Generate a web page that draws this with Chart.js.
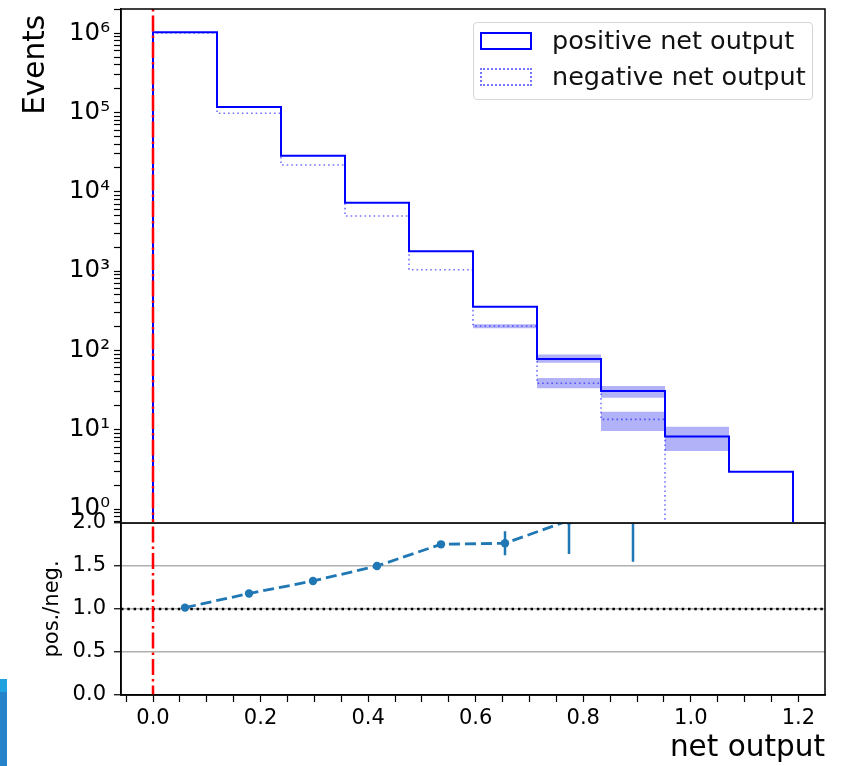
<!DOCTYPE html>
<html>
<head>
<meta charset="utf-8">
<script src="https://cdn.jsdelivr.net/npm/chart.js@4.4.1/dist/chart.umd.min.js"></script>
<style>
  html, body { margin: 0; padding: 0; background: #fff; }
  #wrap { position: relative; width: 849px; height: 766px; overflow: hidden; font-family: 'DejaVu Sans', sans-serif; }
  #wrap canvas { position: absolute; left: 0; top: 0; }
  #legend { position: absolute; left: 473px; top: 22px; width: 338px; height: 76px; border: 1px solid #d6d6d6; border-radius: 4px; background: rgba(255,255,255,0.85); }
  .entry { position: absolute; left: 6px; height: 18px; }
  .handle { position: absolute; left: 0; top: 0; width: 52px; height: 18px; box-sizing: border-box; }
  .text { position: absolute; left: 72px; top: -7px; font-size: 25.5px; line-height: 30px; color: #111; white-space: nowrap; }
  #corner { position: absolute; left: 0; top: 679px; width: 7px; height: 87px; background: #2583c9; }
  #corner div { width: 7px; height: 13px; background: #1fa2df; }
</style>
</head>
<body>
<div id="wrap">
  <canvas id="histCanvas" width="849" height="530"></canvas>
  <canvas id="ratioCanvas" width="849" height="766"></canvas>
  <div id="legend"></div>
  <div id="corner"><div></div></div>
</div>
<script>
// histogram binning (net output)
const binEdges = [0, 0.119, 0.238, 0.357, 0.476, 0.595, 0.714, 0.833, 0.952, 1.071, 1.19];
const posCounts = [1.03e6, 1.17e5, 2.85e4, 7.3e3, 1.78e3, 356, 78, 30.8, 8.2, 2.95];
const negCounts = [1.01e6, 9.8e4, 2.18e4, 4.95e3, 1.04e3, 203, 38.5, 13.5, 0, 0];

// uncertainty bands (null = not drawn)
const posBandLow  = [null, null, null, null, null, null, 70, 25.3, 5.4, null];
const posBandHigh = [null, null, null, null, null, null, 89, 35.6, 10.9, null];
const negBandLow  = [null, null, null, null, null, 190, 33.3, 9.6, null, null];
const negBandHigh = [null, null, null, null, null, 213, 44.9, 16.9, null, null];

// ratio panel
const ratioValues = [1.016, 1.18, 1.326, 1.50, 1.752, 1.764, 2.03, 2.28, null, null];
const ratioErrors = [0.006, 0.01, 0.012, 0.02, 0.035, 0.14, 0.39, 0.73, null, null];

const seriesLabels = ['positive net output', 'negative net output'];
const logMajorTicks = [1, 10, 100, 1e3, 1e4, 1e5, 1e6];
const ratioTicks = [0, 0.5, 1.0, 1.5, 2.0];
const xMajorTicks = [0, 0.2, 0.4, 0.6, 0.8, 1.0, 1.2];
const cutValue = 0;      // red dash-dot line
const ratioRef = 1.0;    // black dotted line

const xMin = -0.0595, xMax = 1.2495;
const yMin = 0.666, yMax = 2.02e6;
const rMin = 0, rMax = 2;
const FLOOR = 1e-3;

Chart.defaults.font.family = "'DejaVu Sans', sans-serif";
Chart.defaults.color = '#000';

const BLUE = '#0000ff';
const NEG_BLUE = 'rgba(0, 0, 255, 0.55)';
const BAND = 'rgba(0, 0, 235, 0.3)';
const RATIO = '#1f77b4';

const sup = '⁰¹²³⁴⁵⁶⁷⁸⁹';
function powLabel(v) {
    const e = Math.round(Math.log10(v));
    return '10' + String(e).split('').map(d => sup[+d]).join('');
}

// minor log ticks 2..9 x 10^n
let logTicks = [];
for (let e = -1; e <= 6; e++) {
    for (let m = 1; m <= 9; m++) {
        const v = m === 1 ? Math.pow(10, e) : m * Math.pow(10, e);
        if (v >= yMin && v <= yMax) logTicks.push(m === 1 && e >= 0 ? logMajorTicks[e] : v);
    }
}

let xTicks = [];
for (let k = -1; k <= 25; k++) {
    const v = Math.round(k * 0.05 * 100) / 100;
    if (v >= xMin && v <= xMax) xTicks.push(v);
}

function stepPoints(counts) {
    const last = binEdges.length - 1;
    let pts = [{ x: binEdges[0], y: FLOOR }];
    counts.forEach((c, i) => pts.push({ x: binEdges[i], y: c > 0 ? c : FLOOR }));
    pts.push({ x: binEdges[last], y: counts[counts.length - 1] > 0 ? counts[counts.length - 1] : FLOOR });
    pts.push({ x: binEdges[last], y: FLOOR });
    return pts;
}

function bandDatasets(low, high) {
    let out = [];
    low.forEach((lo, i) => {
        if (lo === null) return;
        const hi = high[i];
        out.push({ data: [{ x: binEdges[i], y: hi }, { x: binEdges[i + 1], y: hi }],
                   borderWidth: 0, pointRadius: 0, fill: false, order: 10 });
        out.push({ data: [{ x: binEdges[i], y: lo }, { x: binEdges[i + 1], y: lo }],
                   borderWidth: 0, pointRadius: 0, fill: '-1', backgroundColor: BAND, order: 10 });
    });
    return out;
}

const frame = {
    id: 'frame',
    afterDatasetsDraw(chart) {
        const { ctx, chartArea: a } = chart;
        ctx.save();
        ctx.strokeStyle = '#000';
        ctx.lineWidth = 1.5;
        ctx.strokeRect(a.left, a.top, a.right - a.left, a.bottom - a.top);
        ctx.restore();
    }
};

function noPad(s) { s.paddingTop = 0; s.paddingBottom = 0; s.paddingLeft = 0; s.paddingRight = 0; }

let histDatasets = [
    { data: [{ x: cutValue, y: FLOOR }, { x: cutValue, y: yMax * 10 }],
      borderColor: '#ff0000', borderWidth: 2.5, borderDash: [16, 4, 2.5, 4], pointRadius: 0, order: 0 },
    { label: seriesLabels[0], data: stepPoints(posCounts), stepped: 'before',
      borderColor: BLUE, borderWidth: 2, pointRadius: 0, backgroundColor: 'transparent', order: 1 },
    { label: seriesLabels[1], data: stepPoints(negCounts), stepped: 'before',
      borderColor: NEG_BLUE, borderWidth: 1.6, borderDash: [1.6, 3], pointRadius: 0, backgroundColor: 'transparent', order: 2 }
];
histDatasets = histDatasets.concat(bandDatasets(posBandLow, posBandHigh), bandDatasets(negBandLow, negBandHigh));

const histChart = new Chart(document.getElementById('histCanvas'), {
    type: 'line',
    data: { datasets: histDatasets },
    options: {
        responsive: false,
        animation: false,
        layout: { padding: { top: 9, right: 24, bottom: 7, left: 0 } },
        plugins: { legend: { display: false }, tooltip: { enabled: false } },
        scales: {
            x: { type: 'linear', min: xMin, max: xMax, display: false },
            y: {
                type: 'logarithmic', min: yMin, max: yMax,
                afterFit: s => { s.width = 121; noPad(s); },
                afterBuildTicks: s => { s.ticks = logTicks.map(v => ({ value: v })); },
                ticks: {
                    autoSkip: false, padding: 4, color: '#000',
                    font: { size: 24.5 },
                    callback: v => logMajorTicks.includes(v) ? powLabel(v) : ''
                },
                grid: { drawOnChartArea: false, drawTicks: true, tickLength: 7, tickColor: '#000', tickWidth: 1.2 },
                border: { display: true, color: '#000', width: 1.5 },
                title: { display: true, text: 'Events\u2009', align: 'end', color: '#000',
                         font: { size: 29.5 }, padding: { top: 19, bottom: 0 } }
            }
        }
    },
    plugins: [frame]
});

// ratio panel
const centers = binEdges.slice(0, -1).map((e, i) => (e + binEdges[i + 1]) / 2);
let ratioPts = [], errPts = [];
ratioValues.forEach((r, i) => {
    if (r === null) return;
    ratioPts.push({ x: centers[i], y: r });
    errPts.push({ x: centers[i], y: r - ratioErrors[i] });
    errPts.push({ x: centers[i], y: r + ratioErrors[i] });
    errPts.push({ x: centers[i], y: null });
});

const ratioChart = new Chart(document.getElementById('ratioCanvas'), {
    type: 'line',
    data: {
        datasets: [
            { data: [{ x: cutValue, y: -1 }, { x: cutValue, y: rMax + 1 }],
              borderColor: '#ff0000', borderWidth: 2.5, borderDash: [16, 4, 2.5, 4], pointRadius: 0, order: 0 },
            { data: [{ x: xMin, y: ratioRef }, { x: xMax, y: ratioRef }],
              borderColor: '#000', borderWidth: 2.5, borderDash: [2.5, 3.8], pointRadius: 0, order: 3 },
            { data: ratioPts, borderColor: RATIO, borderWidth: 2.8, borderDash: [11, 5],
              pointRadius: 4.2, pointBackgroundColor: RATIO, pointBorderWidth: 0, order: 1 },
            { data: errPts, borderColor: RATIO, borderWidth: 2.5, pointRadius: 0, spanGaps: false, order: 2 }
        ]
    },
    options: {
        responsive: false,
        animation: false,
        layout: { padding: { top: 523, right: 24, bottom: 0, left: 0 } },
        plugins: { legend: { display: false }, tooltip: { enabled: false } },
        scales: {
            x: {
                type: 'linear', min: xMin, max: xMax,
                afterFit: s => { s.height = 71; noPad(s); },
                afterBuildTicks: s => { s.ticks = xTicks.map(v => ({ value: v })); },
                ticks: {
                    autoSkip: false, maxRotation: 0, padding: 4, color: '#000',
                    font: { size: 21 },
                    callback: v => xMajorTicks.some(t => Math.abs(t - v) < 1e-6) ? v.toFixed(1) : ''
                },
                grid: { drawOnChartArea: false, drawTicks: true, tickLength: 7, tickColor: '#000', tickWidth: 1.2 },
                border: { display: true, color: '#000', width: 1.5 },
                title: { display: true, text: 'net output', align: 'end', color: '#000',
                         font: { size: 29.5 }, padding: { top: 0, bottom: 0 } }
            },
            y: {
                type: 'linear', min: rMin, max: rMax,
                afterFit: s => { s.width = 121; noPad(s); },
                afterBuildTicks: s => { s.ticks = ratioTicks.map(v => ({ value: v })); },
                ticks: { autoSkip: false, padding: 8, color: '#000', font: { size: 21 },
                         callback: v => v.toFixed(1) },
                grid: { color: '#b0b0b0', lineWidth: 1.5, drawTicks: true, tickLength: 7, tickColor: '#000', tickWidth: 1.2 },
                border: { display: true, color: '#000', width: 1.5 },
                title: { display: true, text: 'pos./neg.', color: '#000',
                         font: { size: 21 }, padding: { top: 40, bottom: 0 } }
            }
        }
    },
    plugins: [frame]
});

// legend built from the labelled histogram datasets
const legendEl = document.getElementById('legend');
histChart.data.datasets.filter(d => d.label).forEach((d, i) => {
    const entry = document.createElement('div');
    entry.className = 'entry';
    entry.style.top = (9 + i * 36) + 'px';
    const handle = document.createElement('div');
    handle.className = 'handle';
    handle.style.border = (d.borderDash ? '2px dotted ' : '2px solid ') + d.borderColor;
    const text = document.createElement('div');
    text.className = 'text';
    text.textContent = d.label;
    entry.appendChild(handle);
    entry.appendChild(text);
    legendEl.appendChild(entry);
});
</script>
</body>
</html>
